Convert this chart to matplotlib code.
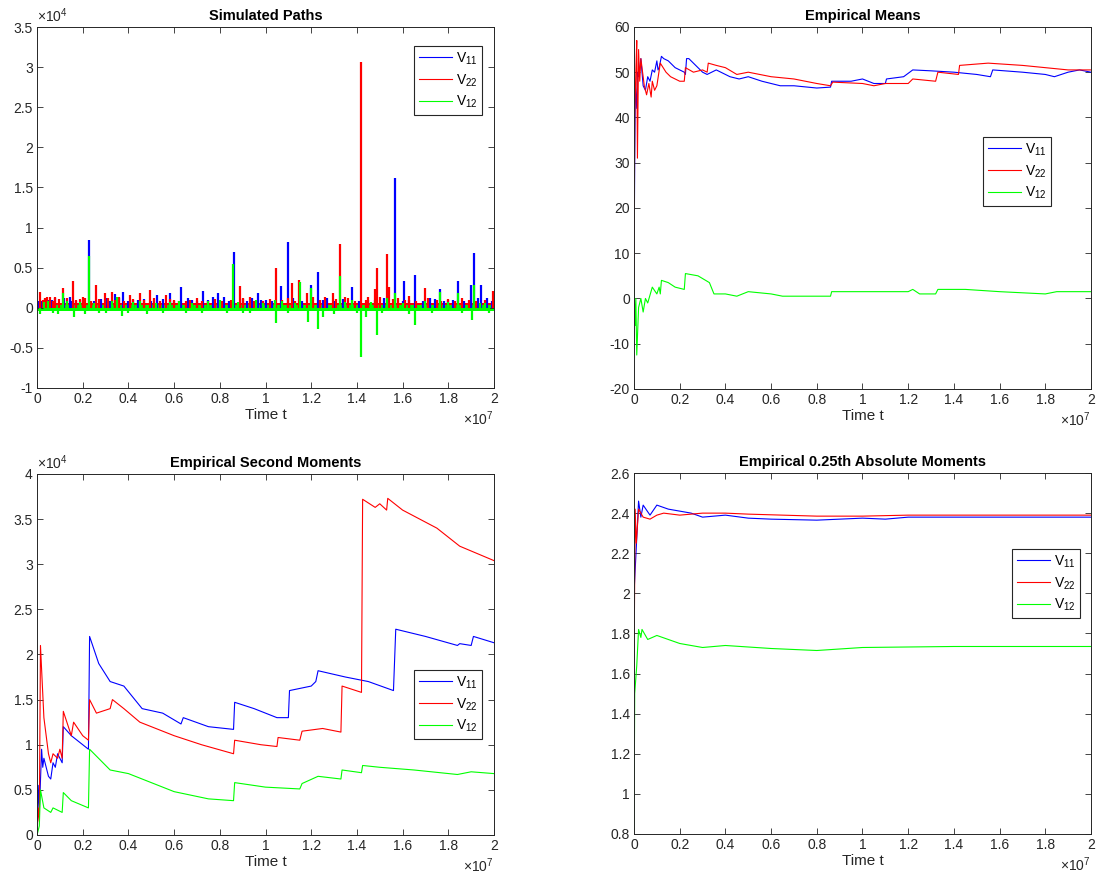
import numpy as np
import matplotlib
matplotlib.use("Agg")
import matplotlib.pyplot as plt
from matplotlib.ticker import FuncFormatter, MultipleLocator

plt.rcParams['font.family'] = ['Liberation Sans', 'DejaVu Sans']
plt.rcParams['mathtext.fontset'] = 'custom'
plt.rcParams['mathtext.rm'] = 'Liberation Sans'

T_SCALE = 1e7
DARK = '#262626'
C11, C22, C12 = '#0000ff', '#ff0000', '#00ff00'
labels = ['V$_{\\mathregular{11}}$', 'V$_{\\mathregular{22}}$', 'V$_{\\mathregular{12}}$']

# ---- simulated paths (x1e7 time, x1e4 value): spikes
v11_spike_t = [0.02, 0.05, 0.08, 0.143, 0.17, 0.2268, 0.30, 0.34, 0.377, 0.42, 0.47, 0.526,
               0.582, 0.632, 0.68, 0.727, 0.793, 0.82, 0.86, 0.94, 0.965, 1.0, 1.066, 1.097,
               1.198, 1.228, 1.27, 1.38, 1.45, 1.568, 1.604, 1.655, 1.72, 1.764, 1.80, 1.841,
               1.90, 1.911, 1.943, 1.97,
               0.01, 0.035, 0.065, 0.12, 0.155, 0.2, 0.25, 0.28, 0.32, 0.36, 0.4, 0.44, 0.5,
               0.55, 0.6, 0.66, 0.7, 0.75, 0.77, 0.84, 0.9, 0.92, 0.98, 1.03, 1.12, 1.16,
               1.25, 1.3, 1.34, 1.41, 1.48, 1.52, 1.6, 1.63, 1.69, 1.74, 1.78, 1.82, 1.87,
               1.93, 1.99]
v11_spike_v = [0.08, 0.10, 0.12, 0.14, 0.09, 0.85, 0.12, 0.17, 0.20, 0.10, 0.11, 0.16,
               0.18, 0.26, 0.10, 0.21, 0.19, 0.13, 0.70, 0.12, 0.18, 0.10, 0.27, 0.82,
               0.29, 0.44, 0.12, 0.26, 0.10, 1.62, 0.34, 0.41, 0.12, 0.24, 0.10, 0.34,
               0.29, 0.68, 0.29, 0.12,
               0.09, 0.11, 0.1, 0.12, 0.08, 0.1, 0.09, 0.11, 0.08, 0.12, 0.09, 0.1, 0.08,
               0.11, 0.09, 0.12, 0.08, 0.1, 0.13, 0.09, 0.11, 0.08, 0.1, 0.09, 0.12, 0.08,
               0.1, 0.09, 0.11, 0.08, 0.1, 0.12, 0.09, 0.1, 0.08, 0.11, 0.09, 0.1, 0.08,
               0.12, 0.09]
v22_spike_t = [0.013, 0.035, 0.057, 0.08, 0.112, 0.156, 0.188, 0.21, 0.258, 0.297, 0.326, 0.36,
               0.406, 0.45, 0.493, 0.566, 0.60, 0.65, 0.70, 0.75, 0.888, 0.93, 1.048, 1.114,
               1.146, 1.18, 1.26, 1.296, 1.328, 1.36, 1.42, 1.45, 1.477, 1.487, 1.531, 1.54,
               1.58, 1.63, 1.696, 1.75, 1.86, 1.994,
               0.025, 0.045, 0.07, 0.095, 0.13, 0.17, 0.2, 0.235, 0.27, 0.31, 0.34, 0.38,
               0.42, 0.47, 0.51, 0.54, 0.58, 0.62, 0.67, 0.72, 0.78, 0.81, 0.85, 0.9, 0.95,
               0.99, 1.02, 1.07, 1.1, 1.13, 1.21, 1.24, 1.31, 1.35, 1.39, 1.44, 1.5, 1.56,
               1.61, 1.66, 1.71, 1.77, 1.8, 1.83, 1.89, 1.92, 1.96]
v22_spike_v = [0.20, 0.12, 0.14, 0.13, 0.25, 0.34, 0.11, 0.12, 0.29, 0.19, 0.20, 0.13,
               0.16, 0.18, 0.22, 0.16, 0.10, 0.09, 0.12, 0.08, 0.27, 0.13, 0.49, 0.31,
               0.35, 0.18, 0.14, 0.19, 0.79, 0.12, 3.07, 0.14, 0.24, 0.49, 0.67, 0.26,
               0.12, 0.15, 0.25, 0.10, 0.12, 0.21,
               0.1, 0.13, 0.09, 0.11, 0.12, 0.1, 0.13, 0.09, 0.11, 0.12, 0.1, 0.09,
               0.11, 0.1, 0.12, 0.09, 0.11, 0.08, 0.1, 0.09, 0.11, 0.08, 0.1, 0.12, 0.09,
               0.08, 0.11, 0.1, 0.12, 0.09, 0.13, 0.1, 0.11, 0.14, 0.09, 0.1, 0.13, 0.11,
               0.1, 0.09, 0.12, 0.08, 0.11, 0.09, 0.1, 0.08, 0.1]
v12_spike_t = [0.013, 0.05, 0.09, 0.112, 0.16, 0.2268, 0.27, 0.35, 0.37, 0.45, 0.55, 0.62,
               0.72, 0.80, 0.858, 0.90, 0.96, 1.04, 1.048, 1.15, 1.185, 1.20, 1.228, 1.25,
               1.328, 1.38, 1.42, 1.44, 1.487, 1.53, 1.568, 1.655, 1.70, 1.764, 1.841, 1.905,
               1.911, 1.96,
               0.03, 0.07, 0.13, 0.19, 0.21, 0.25, 0.3, 0.33, 0.4, 0.42, 0.48, 0.52, 0.58,
               0.65, 0.68, 0.75, 0.83, 0.88, 0.93, 0.99, 1.07, 1.1, 1.13, 1.3, 1.35, 1.4,
               1.46, 1.51, 1.6, 1.63, 1.73, 1.8, 1.86, 1.94, 1.98]
v12_spike_v = [-0.08, 0.08, -0.08, 0.19, -0.11, 0.65, -0.06, 0.14, -0.10, 0.08, -0.07, 0.09,
               -0.07, 0.10, 0.55, -0.06, 0.10, 0.10, -0.19, 0.32, -0.18, 0.25, -0.27, -0.12,
               0.40, 0.10, -0.61, -0.12, -0.34, 0.12, 0.18, -0.22, 0.08, 0.20, 0.18, -0.15,
               0.28, 0.06,
               0.07, -0.07, 0.08, 0.07, -0.08, 0.06, -0.07, 0.08, -0.06, 0.07, -0.08, 0.06, 0.07,
               -0.07, 0.06, 0.08, -0.06, 0.07, -0.07, 0.06, 0.08, -0.07, 0.06, -0.08, 0.07,
               -0.06, 0.07, -0.07, 0.06, -0.08, -0.06, 0.07, -0.07, 0.06, -0.07]
# dense noise band around zero (x1e4)
band11 = [0.0, 0.05]
band22 = [0.0, 0.055]
band12 = [-0.045, 0.04]

# ---- empirical means
m11_t = [0, 0.003, 0.006, 0.012, 0.015, 0.02, 0.03, 0.04, 0.05, 0.06, 0.07, 0.08, 0.09, 0.10,
         0.105, 0.11, 0.12, 0.13, 0.15, 0.18, 0.22, 0.225, 0.23, 0.24, 0.26, 0.30, 0.32, 0.36,
         0.38, 0.42, 0.46, 0.50, 0.56, 0.64, 0.70, 0.80, 0.86, 0.865, 0.95, 1.0, 1.05, 1.10,
         1.105, 1.18, 1.22, 1.30, 1.40, 1.50, 1.56, 1.57, 1.70, 1.80, 1.84, 1.90, 1.95, 2.0]
m11_v = [5, 30, 47, 42, 50, 49, 53, 47, 46, 49, 48, 50.5, 50, 52.5, 50.5, 51, 53.5, 53, 52.5,
         51, 50, 49.5, 53, 53, 52, 50, 49.5, 50.5, 50, 49, 48.5, 49, 48, 47, 47, 46.5, 46.7,
         48, 48, 48.5, 47.5, 47.5, 48.5, 49, 50.5, 50.3, 50, 49.5, 49, 50.5, 50, 49.5, 49, 50,
         50.5, 50]
m22_t = [0, 0.003, 0.008, 0.012, 0.015, 0.02, 0.025, 0.03, 0.045, 0.055, 0.065, 0.07, 0.075,
         0.08, 0.09, 0.10, 0.115, 0.14, 0.16, 0.20, 0.22, 0.225, 0.26, 0.30, 0.32, 0.325, 0.36,
         0.40, 0.45, 0.50, 0.60, 0.70, 0.80, 0.86, 0.87, 1.0, 1.05, 1.10, 1.20, 1.22, 1.32,
         1.33, 1.42, 1.425, 1.50, 1.55, 1.70, 1.80, 1.90, 2.0]
m22_v = [0, 40, 50, 57, 31, 55, 48, 53, 47, 45, 47.5, 46, 44.5, 48, 46, 47, 52, 50, 49, 48, 48,
         51, 50, 50.5, 50, 52, 51.5, 51, 49.5, 50, 49, 48.5, 47.5, 47, 47.8, 47.5, 47, 47.5,
         47.5, 48.5, 48, 50, 49.5, 51.5, 51.8, 52, 51.5, 51, 50.5, 50.5]
m12_t = [0, 0.005, 0.008, 0.012, 0.02, 0.03, 0.04, 0.05, 0.06, 0.08, 0.10, 0.11, 0.115, 0.12,
         0.15, 0.18, 0.22, 0.225, 0.28, 0.33, 0.35, 0.40, 0.45, 0.50, 0.60, 0.65, 0.86, 0.865,
         1.10, 1.20, 1.22, 1.25, 1.32, 1.33, 1.45, 1.60, 1.80, 1.85, 2.0]
m12_v = [3, -6, 0, -12.5, -2, 0, -3, 0, -1, 2.5, 1, 2.5, 1, 4, 3.5, 2.5, 2, 5.5, 5, 3.5, 1, 1,
         0.5, 1.5, 1, 0.5, 0.5, 1.5, 1.5, 1.5, 2, 1, 1, 2, 2, 1.5, 1, 1.5, 1.5]

# ---- empirical second moments (x1e3)
s11_t = [0, 0.005, 0.01, 0.02, 0.025, 0.03, 0.05, 0.06, 0.07, 0.08, 0.09, 0.11, 0.115, 0.15,
         0.20, 0.225, 0.23, 0.27, 0.32, 0.38, 0.46, 0.55, 0.63, 0.64, 0.75, 0.86, 0.865, 0.95,
         1.05, 1.10, 1.105, 1.20, 1.22, 1.23, 1.35, 1.45, 1.56, 1.57, 1.70, 1.84, 1.85, 1.90,
         1.91, 2.0]
s11_v = [0, 5.5, 2.5, 9.5, 7.5, 8.5, 6.5, 6.2, 8, 7.5, 9, 8, 12, 11, 10, 9.5, 22, 19, 17, 16.5,
         14, 13.5, 12.3, 13, 12, 11.7, 14.7, 14, 13, 13, 16, 16.5, 17, 18.2, 17.5, 17, 16, 22.8,
         22, 21, 21.2, 21, 22, 21.3]
s22_t = [0, 0.005, 0.01, 0.015, 0.03, 0.05, 0.06, 0.07, 0.09, 0.10, 0.11, 0.115, 0.15, 0.16,
         0.20, 0.225, 0.23, 0.26, 0.32, 0.33, 0.38, 0.45, 0.50, 0.60, 0.72, 0.86, 0.865, 0.98,
         1.05, 1.055, 1.15, 1.16, 1.25, 1.33, 1.335, 1.42, 1.425, 1.48, 1.50, 1.53, 1.535,
         1.60, 1.75, 1.85, 2.0]
s22_v = [0, 3, 1.5, 21, 13, 9, 8, 9, 8.5, 9.5, 8.5, 13.7, 11, 12.5, 11, 10.5, 15, 13.5, 14, 15,
         14, 12.5, 12, 11, 10, 9, 10.5, 10, 9.8, 10.8, 10.5, 11.5, 11.8, 11.4, 16.5, 15.8, 37.2,
         36.3, 36.7, 36, 37.3, 36, 34, 32, 30.4]
s12_t = [0, 0.01, 0.015, 0.03, 0.06, 0.07, 0.11, 0.115, 0.15, 0.225, 0.23, 0.32, 0.40, 0.50,
         0.60, 0.75, 0.86, 0.865, 1.0, 1.15, 1.16, 1.23, 1.33, 1.335, 1.42, 1.425, 1.50, 1.65,
         1.84, 1.90, 2.0]
s12_v = [0, 1, 5, 3, 2.5, 3, 2.5, 4.7, 3.8, 3, 9.5, 7.2, 6.8, 5.8, 4.8, 4, 3.8, 5.8, 5.3, 5.1,
         5.7, 6.5, 6.2, 7.2, 6.9, 7.7, 7.5, 7.2, 6.7, 7, 6.8]

# ---- empirical 0.25th absolute moments
a11_t = [0, 0.02, 0.03, 0.04, 0.07, 0.10, 0.15, 0.25, 0.30, 0.40, 0.50, 0.60, 0.80, 1.0, 1.1,
         1.2, 2.0]
a11_v = [2.0, 2.46, 2.38, 2.44, 2.39, 2.44, 2.42, 2.40, 2.38, 2.39, 2.375, 2.37, 2.365, 2.375,
         2.37, 2.38, 2.38]
a22_t = [0, 0.005, 0.01, 0.02, 0.04, 0.07, 0.10, 0.13, 0.20, 0.30, 0.40, 0.50, 0.80, 1.0, 1.2,
         2.0]
a22_v = [1.6, 2.42, 2.25, 2.42, 2.38, 2.37, 2.39, 2.40, 2.39, 2.40, 2.40, 2.395, 2.385, 2.385,
         2.39, 2.39]
a12_t = [0, 0.003, 0.012, 0.02, 0.03, 0.035, 0.06, 0.10, 0.20, 0.30, 0.40, 0.60, 0.80, 1.0,
         1.4, 2.0]
a12_v = [0.82, 1.5, 1.64, 1.82, 1.78, 1.82, 1.77, 1.79, 1.75, 1.73, 1.74, 1.725, 1.715, 1.73,
         1.735, 1.735]

fig = plt.figure(figsize=(10.99, 8.83), dpi=100)
ax1 = fig.add_axes([0.0337, 0.5606, 0.4158, 0.4088])
ax2 = fig.add_axes([0.5769, 0.5595, 0.4158, 0.4100])
ax3 = fig.add_axes([0.0337, 0.0544, 0.4158, 0.4088])
ax4 = fig.add_axes([0.5769, 0.0555, 0.4158, 0.4088])


def style(ax, title, ylim, ystep, yscale, leg_corner):
    ax.set_xlim(0, 2 * T_SCALE)
    ax.set_ylim(*ylim)
    ax.xaxis.set_major_locator(MultipleLocator(0.2 * T_SCALE))
    ax.yaxis.set_major_locator(MultipleLocator(ystep))
    ax.xaxis.set_major_formatter(FuncFormatter(lambda v, p: '%g' % round(v / T_SCALE, 6)))
    ax.yaxis.set_major_formatter(FuncFormatter(lambda v, p: '%g' % round(v / yscale, 6)))
    ax.tick_params(direction='in', top=True, right=True, length=4.5, width=0.6,
                   colors=DARK, labelsize=10, pad=3)
    for s in ax.spines.values():
        s.set_color(DARK)
        s.set_linewidth(0.7)
    ax.set_title(title, fontsize=10.5, fontweight='bold', pad=5)
    ax.set_xlabel('Time t', fontsize=11, color=DARK, labelpad=1)
    ax.text(1.0, -0.085, '$\\mathregular{\\times 10^{7}}$', transform=ax.transAxes,
            ha='right', va='center', fontsize=10, color=DARK)
    if yscale != 1:
        ax.text(0.0, 1.005, '$\\mathregular{\\times 10^{4}}$', transform=ax.transAxes,
                ha='left', va='bottom', fontsize=10, color=DARK)
    leg = ax.legend(loc='upper right', bbox_to_anchor=leg_corner, bbox_transform=fig.transFigure,
                    borderaxespad=0, fontsize=10, handlelength=2.4, handletextpad=0.3,
                    labelspacing=0.4, borderpad=0.3, fancybox=False, framealpha=1)
    leg.get_frame().set_edgecolor(DARK)
    leg.get_frame().set_linewidth(0.8)


lw = 0.8
t = lambda arr: np.array(arr) * T_SCALE

# simulated paths
for st, sv, band, c, lab in [(v11_spike_t, v11_spike_v, band11, C11, labels[0]),
                             (v22_spike_t, v22_spike_v, band22, C22, labels[1]),
                             (v12_spike_t, v12_spike_v, band12, C12, labels[2])]:
    ax1.fill_between([0, 2 * T_SCALE], band[0] * 1e4, band[1] * 1e4, color=c, lw=0)
    ax1.vlines(t(st), 0, np.array(sv) * 1e4, color=c, lw=1.6)
    ax1.plot([], [], color=c, lw=lw, label=lab)
style(ax1, 'Simulated Paths', (-1e4, 3.5e4), 0.5e4, 1e4, (482 / 1099, 1 - 46 / 883))

ax2.plot(t(m11_t), m11_v, color=C11, lw=lw, label=labels[0])
ax2.plot(t(m22_t), m22_v, color=C22, lw=lw, label=labels[1])
ax2.plot(t(m12_t), m12_v, color=C12, lw=lw, label=labels[2])
style(ax2, 'Empirical Means', (-20, 60), 10, 1, (1051 / 1099, 1 - 137 / 883))

ax3.plot(t(s11_t), np.array(s11_v) * 1e3, color=C11, lw=lw, label=labels[0])
ax3.plot(t(s22_t), np.array(s22_v) * 1e3, color=C22, lw=lw, label=labels[1])
ax3.plot(t(s12_t), np.array(s12_v) * 1e3, color=C12, lw=lw, label=labels[2])
style(ax3, 'Empirical Second Moments', (0, 4e4), 0.5e4, 1e4, (482 / 1099, 1 - 670 / 883))

ax4.plot(t(a11_t), a11_v, color=C11, lw=lw, label=labels[0])
ax4.plot(t(a22_t), a22_v, color=C22, lw=lw, label=labels[1])
ax4.plot(t(a12_t), a12_v, color=C12, lw=lw, label=labels[2])
style(ax4, 'Empirical 0.25th Absolute Moments', (0.8, 2.6), 0.2, 1, (1080 / 1099, 1 - 549 / 883))

fig.savefig('out.png', dpi=100, facecolor='white')
